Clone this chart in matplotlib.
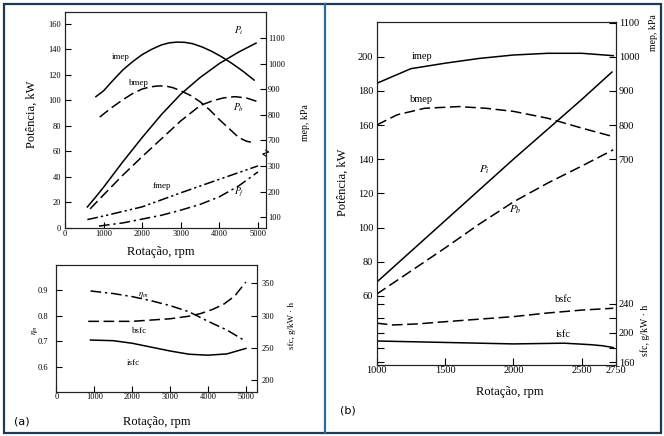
import numpy as np
import matplotlib
matplotlib.use('Agg')
import matplotlib.pyplot as plt
from matplotlib.patches import Rectangle
from matplotlib.lines import Line2D

# ---- data ----
# (a) upper: power (kW) and mean effective pressure (kPa) vs speed
rpm_imep_a = [800, 1000, 1250, 1500, 1750, 2000, 2250, 2500, 2700, 2900, 3100, 3300, 3550, 3800, 4050, 4300, 4600, 4900]
imep_a     = [870, 893, 935, 975, 1007, 1035, 1056, 1073, 1081, 1084, 1083, 1078, 1065, 1048, 1027, 1003, 971, 935]
rpm_bmep_a = [900, 1200, 1500, 1750, 2000, 2200, 2400, 2600, 2800, 3000, 3250, 3500, 3750, 4000, 4250, 4500, 4700, 4900]
bmep_a     = [790, 826, 858, 882, 900, 908, 912, 912, 905, 893, 875, 850, 818, 780, 745, 710, 682, 655]
rpm_pi_a   = [580, 800, 1000, 1250, 1500, 1750, 2000, 2500, 3000, 3500, 4000, 4500, 4950]
pi_a       = [16.5, 24.5, 32, 42, 52, 61.5, 71, 89, 105, 118, 129, 138, 145]
rpm_pb_a   = [650, 1000, 1500, 2000, 2500, 3000, 3500, 3800, 4100, 4400, 4700, 5000]
pb_a       = [15, 26, 41.5, 56, 70, 84, 96, 99.5, 102, 103, 102, 99]
rpm_fmep_a = [580, 1000, 2000, 3000, 4000, 5000]
fmep_a     = [90, 104, 140, 195, 248, 302]
rpm_pf_a   = [880, 1500, 2000, 2500, 3000, 3500, 4000, 4500, 5000]
pf_a       = [1.5, 4, 7, 10, 14, 18.5, 24.5, 33, 44]

# (a) lower: mechanical efficiency and specific fuel consumption
rpm_eta = [900, 1500, 2000, 2500, 3000, 3500, 4000, 4500, 5000]
eta_m   = [0.896, 0.886, 0.874, 0.858, 0.839, 0.815, 0.778, 0.744, 0.70]
rpm_bsfc_a = [840, 1500, 2000, 2500, 3000, 3500, 3800, 4100, 4400, 4700, 5000]
bsfc_a     = [291, 291, 291, 293, 295, 299, 303, 309, 317, 330, 352]
rpm_isfc_a = [900, 1500, 2000, 2500, 3000, 3500, 4000, 4500, 5000]
isfc_a     = [262, 261, 257, 251, 245, 240, 238.5, 240.5, 249]

# (b)
rpm_imep_b = [1000, 1250, 1500, 1750, 2000, 2250, 2500, 2730]
imep_b     = [922, 965, 981, 995, 1005, 1010, 1010, 1003]
rpm_bmep_b = [1000, 1150, 1350, 1600, 1800, 2000, 2250, 2500, 2730]
bmep_b     = [800, 830, 849, 854, 849, 840, 820, 791, 766]
rpm_pi_b   = [1000, 1500, 2000, 2500, 2720]
pi_b       = [68, 104, 140, 175, 191]
rpm_pb_b   = [1000, 1250, 1500, 1750, 2000, 2250, 2500, 2730]
pb_b       = [61, 74.5, 88, 102, 115, 126, 136, 145.5]
rpm_bsfc_b = [1000, 1120, 1300, 1500, 1750, 2000, 2250, 2500, 2730]
bsfc_b     = [213.5, 211, 212.5, 215.5, 219, 222.5, 227.5, 231.5, 234]
rpm_isfc_b = [1000, 1500, 2000, 2370, 2560, 2650, 2730]
isfc_b     = [189, 187, 185, 186, 184, 182.5, 180]

# tick values
kw_ticks_a   = [0, 20, 40, 60, 80, 100, 120, 140, 160]
mep_ticks_a  = [100, 200, 300, 700, 800, 900, 1000, 1100]
rpm_ticks_a  = [0, 1000, 2000, 3000, 4000, 5000]
eta_ticks    = [0.6, 0.7, 0.8, 0.9]
sfc_ticks_a  = [200, 250, 300, 350]
kw_ticks_b   = [60, 80, 100, 120, 140, 160, 180, 200]
rpm_ticks_b  = [1000, 1500, 2000, 2500, 2750]
right_ticks_b = [160, 180, 200, 220, 240, 700, 800, 900, 1000, 1100]
right_labels_b = ['160', '', '200', '', '240', '700', '800', '900', '1000', '1100']


# broken mep axis of (a): kPa -> kW position on the left axis
def fwd_a(v):
    v = np.asarray(v, dtype=float)
    return np.where(v <= 300, 0.2 * v - 11.4,
                    np.where(v >= 700, 0.2 * v - 71, 48.6 + (v - 300) * 0.051))


def inv_a(k):
    k = np.asarray(k, dtype=float)
    return np.where(k <= 48.6, (k + 11.4) / 0.2,
                    np.where(k >= 69, (k + 71) / 0.2, 300 + (k - 48.6) / 0.051))


# right axis of (b): sfc (g/kWh) below, mep (kPa) above
def fwd_b(v):
    v = np.asarray(v, dtype=float)
    return np.where(v <= 300, 21.2 + (v - 160) * 0.426,
                    np.where(v >= 600, 0.2 * v, 80.84 + (v - 300) * 0.13053))


def inv_b(k):
    k = np.asarray(k, dtype=float)
    return np.where(k <= 80.84, 160 + (k - 21.2) / 0.426,
                    np.where(k >= 120, k / 0.2, 300 + (k - 80.84) / 0.13053))


plt.rcParams['font.family'] = ['Liberation Serif', 'DejaVu Serif']
plt.rcParams['mathtext.fontset'] = 'stix'

W, H = 664, 436
fig = plt.figure(figsize=(W / 100, H / 100), dpi=100)


def box(l, t, r, b):
    return [l / W, 1 - b / H, (r - l) / W, (b - t) / H]


def ftext(px, py, s, **kw):
    fig.text(px / W, 1 - py / H, s, ha='center', va='center', **kw)


def style(ax, size, length, pad):
    for sp in ax.spines.values():
        sp.set_linewidth(0.8)
        sp.set_color('#222222')
    ax.tick_params(direction='in', length=length, width=0.8, labelsize=size, pad=pad)


DASH = (0, (7, 3))
DASHDOT = (0, (7, 2.5, 1.5, 2.5))
DASHDOTDOT = (0, (7, 2, 1.5, 2, 1.5, 2))
LW = 1.1

# ---------- (a) upper ----------
ax1 = fig.add_axes(box(65, 12, 265.7, 228))
ax1r = ax1.twinx()
ax1r.set_yscale('function', functions=(fwd_a, inv_a))
ax1.set_xlim(0, 5200)
ax1.set_ylim(0, 169.4)
ax1r.set_ylim(float(inv_a(0)), float(inv_a(169.4)))

ax1.plot(rpm_pi_a, pi_a, color='k', lw=LW)
ax1.plot(rpm_pb_a, pb_a, color='k', lw=LW, ls=DASH)
ax1.plot(rpm_pf_a, pf_a, color='k', lw=LW, ls=DASHDOT)
ax1r.plot(rpm_imep_a, imep_a, color='k', lw=LW)
ax1r.plot(rpm_bmep_a, bmep_a, color='k', lw=LW, ls=DASH)
ax1r.plot(rpm_fmep_a, fmep_a, color='k', lw=LW, ls=DASHDOTDOT)

ax1.set_xticks(rpm_ticks_a)
ax1.set_yticks(kw_ticks_a)
ax1r.set_yticks(mep_ticks_a, labels=[str(t) for t in mep_ticks_a])
style(ax1, 6, 4, 3)
style(ax1r, 6, 4, 1.5)
ax1.tick_params(axis='x', pad=1.5)

# break mark on the mep axis
ax1r.plot([1.0, 0.985, 1.015, 1.0], [455, 485, 515, 545], color='k', lw=0.8,
          transform=ax1r.get_yaxis_transform(), clip_on=False)

ax1.text(1443, 134.4, 'imep', fontsize=6.5, ha='center', va='center')
ax1.text(1917, 113.5, 'bmep', fontsize=6.5, ha='center', va='center')
ax1.text(4508, 155, '$P_i$', fontsize=7, ha='center', va='center')
ax1.text(4508, 94, '$P_b$', fontsize=7, ha='center', va='center')
ax1.text(2513, 33, 'fmep', fontsize=6.5, ha='center', va='center')
ax1.text(4508, 27.5, '$P_f$', fontsize=7, ha='center', va='center')

ftext(32, 114, 'Potência, kW', fontsize=9, rotation=90)
ftext(305, 123, 'mep, kPa', fontsize=7, rotation=90)
ftext(161, 251.7, 'Rotação, rpm', fontsize=9)

# ---------- (a) lower ----------
ax2 = fig.add_axes(box(56.4, 265, 257, 392))
ax2r = ax2.twinx()
ax2.set_xlim(0, 5293)
ax2.set_ylim(0.503, 0.997)
ax2r.set_ylim(181.4, 378.4)

ax2.plot(rpm_eta, eta_m, color='k', lw=LW, ls=DASHDOT)
ax2r.plot(rpm_bsfc_a, bsfc_a, color='k', lw=LW, ls=DASH)
ax2r.plot(rpm_isfc_a, isfc_a, color='k', lw=LW)

ax2.set_xticks(rpm_ticks_a)
ax2.set_yticks(eta_ticks)
ax2r.set_yticks(sfc_ticks_a)
style(ax2, 6, 4, 6)
style(ax2r, 6, 4, 3)
ax2.tick_params(axis='x', pad=1)

ax2.text(2285, 0.88, r'$\eta_m$', fontsize=6.5, ha='center', va='center')
ax2.text(2206, 0.741, 'bsfc', fontsize=6.5, ha='center', va='center')
ax2.text(2030, 0.617, 'isfc', fontsize=6.5, ha='center', va='center')

ftext(35, 330, r'$\eta_m$', fontsize=6, rotation=90)
ftext(291.7, 325, 'sfc, g/kW · h', fontsize=6.5, rotation=90)
ftext(157, 421.7, 'Rotação, rpm', fontsize=9)
ftext(21.7, 421.7, '(a)', fontsize=8, family='DejaVu Sans')

# ---------- (b) ----------
axb = fig.add_axes(box(376.7, 21.7, 616, 365))
axbr = axb.twinx()
axbl = axb.twinx()
for a in (axbr, axbl):
    a.set_yscale('function', functions=(fwd_b, inv_b))
axb.set_xlim(1000, 2750)
axb.set_ylim(19.5, 220.5)
for a in (axbr, axbl):
    a.set_ylim(float(inv_b(19.5)), float(inv_b(220.5)))

axb.plot(rpm_pi_b, pi_b, color='k', lw=LW)
axb.plot(rpm_pb_b, pb_b, color='k', lw=LW, ls=DASH)
axbr.plot(rpm_imep_b, imep_b, color='k', lw=LW)
axbr.plot(rpm_bmep_b, bmep_b, color='k', lw=LW, ls=DASH)
axbr.plot(rpm_bsfc_b, bsfc_b, color='k', lw=LW, ls=DASH)
axbr.plot(rpm_isfc_b, isfc_b, color='k', lw=LW)

axb.set_xticks(rpm_ticks_b)
axb.set_yticks(kw_ticks_b)
axbr.set_yticks(right_ticks_b, labels=right_labels_b)
style(axb, 7.5, 5, 2.5)
style(axbr, 7.5, 5, 2)
axb.tick_params(axis='x', pad=1)

# sfc ticks repeated on the left spine
axbl.yaxis.tick_left()
axbl.set_yticks([160, 180, 200, 220, 240], labels=[''] * 5)
axbl.tick_params(direction='in', length=5, width=0.8)
for sp in axbl.spines.values():
    sp.set_visible(False)

axb.text(1329, 200, 'imep', fontsize=7.5, ha='center', va='center')
axb.text(1329, 174.7, 'bmep', fontsize=7.5, ha='center', va='center')
axb.text(1785, 133.7, '$P_i$', fontsize=8, ha='center', va='center')
axb.text(2012, 110.3, '$P_b$', fontsize=8, ha='center', va='center')
axb.text(2365, 57.6, 'bsfc', fontsize=7.5, ha='center', va='center')
axb.text(2365, 37.6, 'isfc', fontsize=7.5, ha='center', va='center')

ftext(343, 182, 'Potência, kW', fontsize=9, rotation=90)
ftext(653, 33, 'mep, kPa', fontsize=7, rotation=90)
ftext(645, 330, 'sfc, g/kW · h', fontsize=7, rotation=90)
ftext(510, 391.7, 'Rotação, rpm', fontsize=9)
ftext(348.3, 410.7, '(b)', fontsize=8, family='DejaVu Sans')

# frame and divider
fig.add_artist(Rectangle((4 / W, 1 - 433 / H), 657 / W, 429 / H, transform=fig.transFigure,
                         fill=False, ec='#1f3a55', lw=1.6))
fig.add_artist(Line2D([325 / W, 325 / W], [1 - 433 / H, 1 - 4 / H], transform=fig.transFigure,
                      color='#2d6b98', lw=1.6))

fig.savefig('out.png', dpi=100)
